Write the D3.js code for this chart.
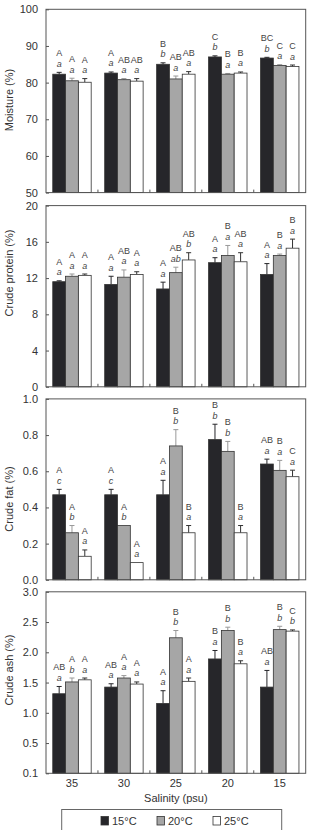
<!DOCTYPE html>
<html>
<head>
<meta charset="utf-8">
<script src="https://cdn.jsdelivr.net/npm/d3@7"></script>
<style>
  html, body { margin: 0; padding: 0; background: #fff; }
  svg { display: block; font-family: "Liberation Sans", Arial, sans-serif; }
</style>
</head>
<body>
<div id="chart"></div>
<script>
// salinity groups (x) and temperature series
const salinity = ["35", "30", "25", "20", "15"];
const temps = ["15°C", "20°C", "25°C"];

// Moisture (%) - one row per salinity, [15, 20, 25 °C]
const moistureMean = [[82.3, 80.5, 80.1], [82.6, 80.8, 80.4], [85.0, 81.0, 82.3], [87.0, 82.3, 82.6], [86.7, 84.7, 84.4]];
const moistureErr = [[0.5, 0.7, 1.0], [0.3, 0.3, 0.7], [0.4, 0.8, 0.7], [0.3, 0.2, 0.3], [0.2, 0.2, 0.4]];
const moistureCap = [["A", "A", "A"], ["A", "AB", "AB"], ["B", "AB", "AB"], ["C", "B", "B"], ["BC", "C", "C"]];
const moistureLow = [["a", "a", "a"], ["a", "a", "a"], ["b", "a", "a"], ["b", "a", "a"], ["b", "a", "a"]];
const moistureTicks = [50, 60, 70, 80, 90, 100];
const moistureTickLabels = ["50", "60", "70", "80", "90", "100"];

// Crude protein (%)
const proteinMean = [[11.6, 12.2, 12.3], [11.3, 12.1, 12.4], [10.8, 12.6, 14.0], [13.7, 14.5, 13.8], [12.4, 14.5, 15.3]];
const proteinErr = [[0.1, 0.25, 0.15], [0.9, 0.8, 0.3], [0.75, 0.6, 0.8], [0.55, 1.1, 1.0], [1.2, 0.15, 1.0]];
const proteinCap = [["A", "A", "A"], ["A", "AB", "A"], ["A", "AB", "AB"], ["A", "B", "AB"], ["A", "B", "B"]];
const proteinLow = [["a", "a", "a"], ["a", "a", "a"], ["a", "ab", "b"], ["a", "a", "a"], ["a", "a", "a"]];
const proteinTicks = [0, 4, 8, 12, 16, 20];
const proteinTickLabels = ["0", "4", "8", "12", "16", "20"];

// Crude fat (%)
const fatMean = [[0.47, 0.26, 0.13], [0.47, 0.30, 0.095], [0.47, 0.74, 0.26], [0.775, 0.71, 0.26], [0.64, 0.605, 0.57]];
const fatErr = [[0.03, 0.04, 0.035], [0.03, 0, 0], [0.08, 0.09, 0.04], [0.085, 0.055, 0.04], [0.027, 0.055, 0.036]];
const fatCap = [["A", "A", "A"], ["A", "A", "A"], ["A", "B", "B"], ["B", "B", "B"], ["AB", "B", "C"]];
const fatLow = [["c", "b", "a"], ["c", "b", "a"], ["a", "b", "a"], ["b", "b", "a"], ["a", "a", "a"]];
const fatTicks = [0, 0.2, 0.4, 0.6, 0.8, 1.0];
const fatTickLabels = ["0.0", "0.2", "0.4", "0.6", "0.8", "1.0"];

// Crude ash (%)
const ashMean = [[1.315, 1.51, 1.545], [1.425, 1.575, 1.475], [1.155, 2.24, 1.52], [1.89, 2.36, 1.81], [1.425, 2.375, 2.35]];
const ashErr = [[0.12, 0.065, 0.03], [0.055, 0.04, 0.035], [0.21, 0.12, 0.055], [0.14, 0.055, 0.05], [0.275, 0.055, 0.02]];
const ashCap = [["AB", "A", "A"], ["AB", "A", "A"], ["A", "B", "A"], ["B", "B", "B"], ["AB", "B", "C"]];
const ashLow = [["a", "b", "a"], ["a", "a", "a"], ["a", "b", "a"], ["a", "b", "a"], ["a", "b", "b"]];
const ashTicks = [0, 0.5, 1.0, 1.5, 2.0, 2.5, 3.0];
const ashTickLabels = ["0.1", "0.5", "1.0", "1.5", "2.0", "2.5", "3.0"];

const width = 310, height = 830;
const left = 46, right = 305.7;
const fills = ["#26262a", "#a6a6a6", "#ffffff"];
const errColors = ["#26262a", "#999999", "#333333"];

const panels = [
  {title: "Moisture (%)", mean: moistureMean, err: moistureErr, cap: moistureCap, low: moistureLow,
   domain: [50, 100], ticks: moistureTicks, labels: moistureTickLabels, top: 9.3, bottom: 192.6, titleY: 100},
  {title: "Crude protein (%)", mean: proteinMean, err: proteinErr, cap: proteinCap, low: proteinLow,
   domain: [0, 20], ticks: proteinTicks, labels: proteinTickLabels, top: 205.6, bottom: 386.8, titleY: 273},
  {title: "Crude fat (%)", mean: fatMean, err: fatErr, cap: fatCap, low: fatLow,
   domain: [0, 1], ticks: fatTicks, labels: fatTickLabels, top: 398.9, bottom: 579.8, titleY: 499},
  {title: "Crude ash (%)", mean: ashMean, err: ashErr, cap: ashCap, low: ashLow,
   domain: [0, 3], ticks: ashTicks, labels: ashTickLabels, top: 591.8, bottom: 773.3, titleY: 670}
];

const svg = d3.select("#chart").append("svg")
    .attr("width", width)
    .attr("height", height);

const x0 = d3.scaleBand().domain(salinity).range([left, right])
    .paddingInner(0.26).paddingOuter(0.13);
const x1 = d3.scaleBand().domain(temps).range([0, x0.bandwidth()]);

panels.forEach(function (p, pi) {
  const y = d3.scaleLinear().domain(p.domain).range([p.bottom, p.top]);
  const g = svg.append("g");

  // y axis, ticks pointing inward
  const yAxis = g.append("g")
      .attr("transform", `translate(${left},0)`)
      .call(d3.axisLeft(y).tickValues(p.ticks)
        .tickFormat((d, i) => p.labels[i])
        .tickSizeInner(-3).tickSizeOuter(0).tickPadding(8));
  yAxis.select(".domain").remove();
  yAxis.selectAll(".tick line").attr("stroke", "#555");
  yAxis.selectAll(".tick text")
      .attr("fill", "#333")
      .style("font-size", "11px")
      .style("font-family", "Liberation Sans, Arial, sans-serif");

  // group separator ticks on the bottom edge
  g.selectAll("line.sep")
    .data(salinity.slice(1))
    .join("line")
      .attr("x1", d => x0(d) - x0.step() * x0.paddingInner() / 2)
      .attr("x2", d => x0(d) - x0.step() * x0.paddingInner() / 2)
      .attr("y1", p.bottom)
      .attr("y2", p.bottom - 3)
      .attr("stroke", "#555");

  // bars
  const groups = g.selectAll("g.grp")
    .data(salinity)
    .join("g")
      .attr("transform", d => `translate(${x0(d)},0)`);

  groups.each(function (s, si) {
    const gg = d3.select(this);
    temps.forEach(function (t, ti) {
      const v = p.mean[si][ti];
      const e = p.err[si][ti];
      const bx = x1(t);
      const bw = x1.bandwidth();
      const cx = bx + bw / 2;
      if (e > 0) {
        gg.append("line")
            .attr("x1", cx).attr("x2", cx)
            .attr("y1", y(v)).attr("y2", y(v + e))
            .attr("stroke", errColors[ti]).attr("stroke-width", 1);
        gg.append("line")
            .attr("x1", cx - 2.5).attr("x2", cx + 2.5)
            .attr("y1", y(v + e)).attr("y2", y(v + e))
            .attr("stroke", errColors[ti]).attr("stroke-width", 1);
      }
      gg.append("rect")
          .attr("x", bx)
          .attr("y", y(v))
          .attr("width", bw)
          .attr("height", p.bottom - y(v))
          .attr("fill", fills[ti])
          .attr("stroke", "#333")
          .attr("stroke-width", 0.8);

      const topY = y(v + e);
      gg.append("text")
          .attr("x", cx)
          .attr("y", topY - 5.5)
          .attr("text-anchor", "middle")
          .attr("fill", "#444")
          .style("font-size", "9px")
          .style("font-style", "italic")
          .text(p.low[si][ti]);
      gg.append("text")
          .attr("x", cx)
          .attr("y", topY - 16)
          .attr("text-anchor", "middle")
          .attr("fill", "#444")
          .style("font-size", "9px")
          .text(p.cap[si][ti]);
    });
  });

  // frame
  g.append("rect")
      .attr("x", left)
      .attr("y", p.top)
      .attr("width", right - left)
      .attr("height", p.bottom - p.top)
      .attr("fill", "none")
      .attr("stroke", "#555")
      .attr("stroke-width", 1);

  // y title
  g.append("text")
      .attr("transform", `translate(10,${p.titleY}) rotate(-90)`)
      .attr("text-anchor", "middle")
      .attr("dominant-baseline", "middle")
      .attr("fill", "#333")
      .style("font-size", "11px")
      .text(p.title);

  // x labels only on the last panel
  if (pi === panels.length - 1) {
    g.selectAll("text.xl")
      .data(salinity)
      .join("text")
        .attr("x", d => x0(d) + x0.bandwidth() / 2)
        .attr("y", p.bottom + 14)
        .attr("text-anchor", "middle")
        .attr("fill", "#333")
        .style("font-size", "11px")
        .text(d => d);
    g.append("text")
        .attr("x", (left + right) / 2)
        .attr("y", p.bottom + 29)
        .attr("text-anchor", "middle")
        .attr("fill", "#333")
        .style("font-size", "11px")
        .text("Salinity (psu)");
  }
});

// legend
const legend = svg.append("g");
legend.append("rect")
    .attr("x", 61.7).attr("y", 809.5)
    .attr("width", 220).attr("height", 30)
    .attr("fill", "none").attr("stroke", "#666").attr("stroke-width", 1);

const legendX = [101, 157, 213];
temps.forEach(function (t, i) {
  legend.append("rect")
      .attr("x", legendX[i]).attr("y", 816.5)
      .attr("width", 7.5).attr("height", 8.5)
      .attr("fill", fills[i]).attr("stroke", "#333").attr("stroke-width", 0.8);
  legend.append("text")
      .attr("x", legendX[i] + 11).attr("y", 825)
      .attr("fill", "#333")
      .style("font-size", "11px")
      .text(t);
});
</script>
</body>
</html>
